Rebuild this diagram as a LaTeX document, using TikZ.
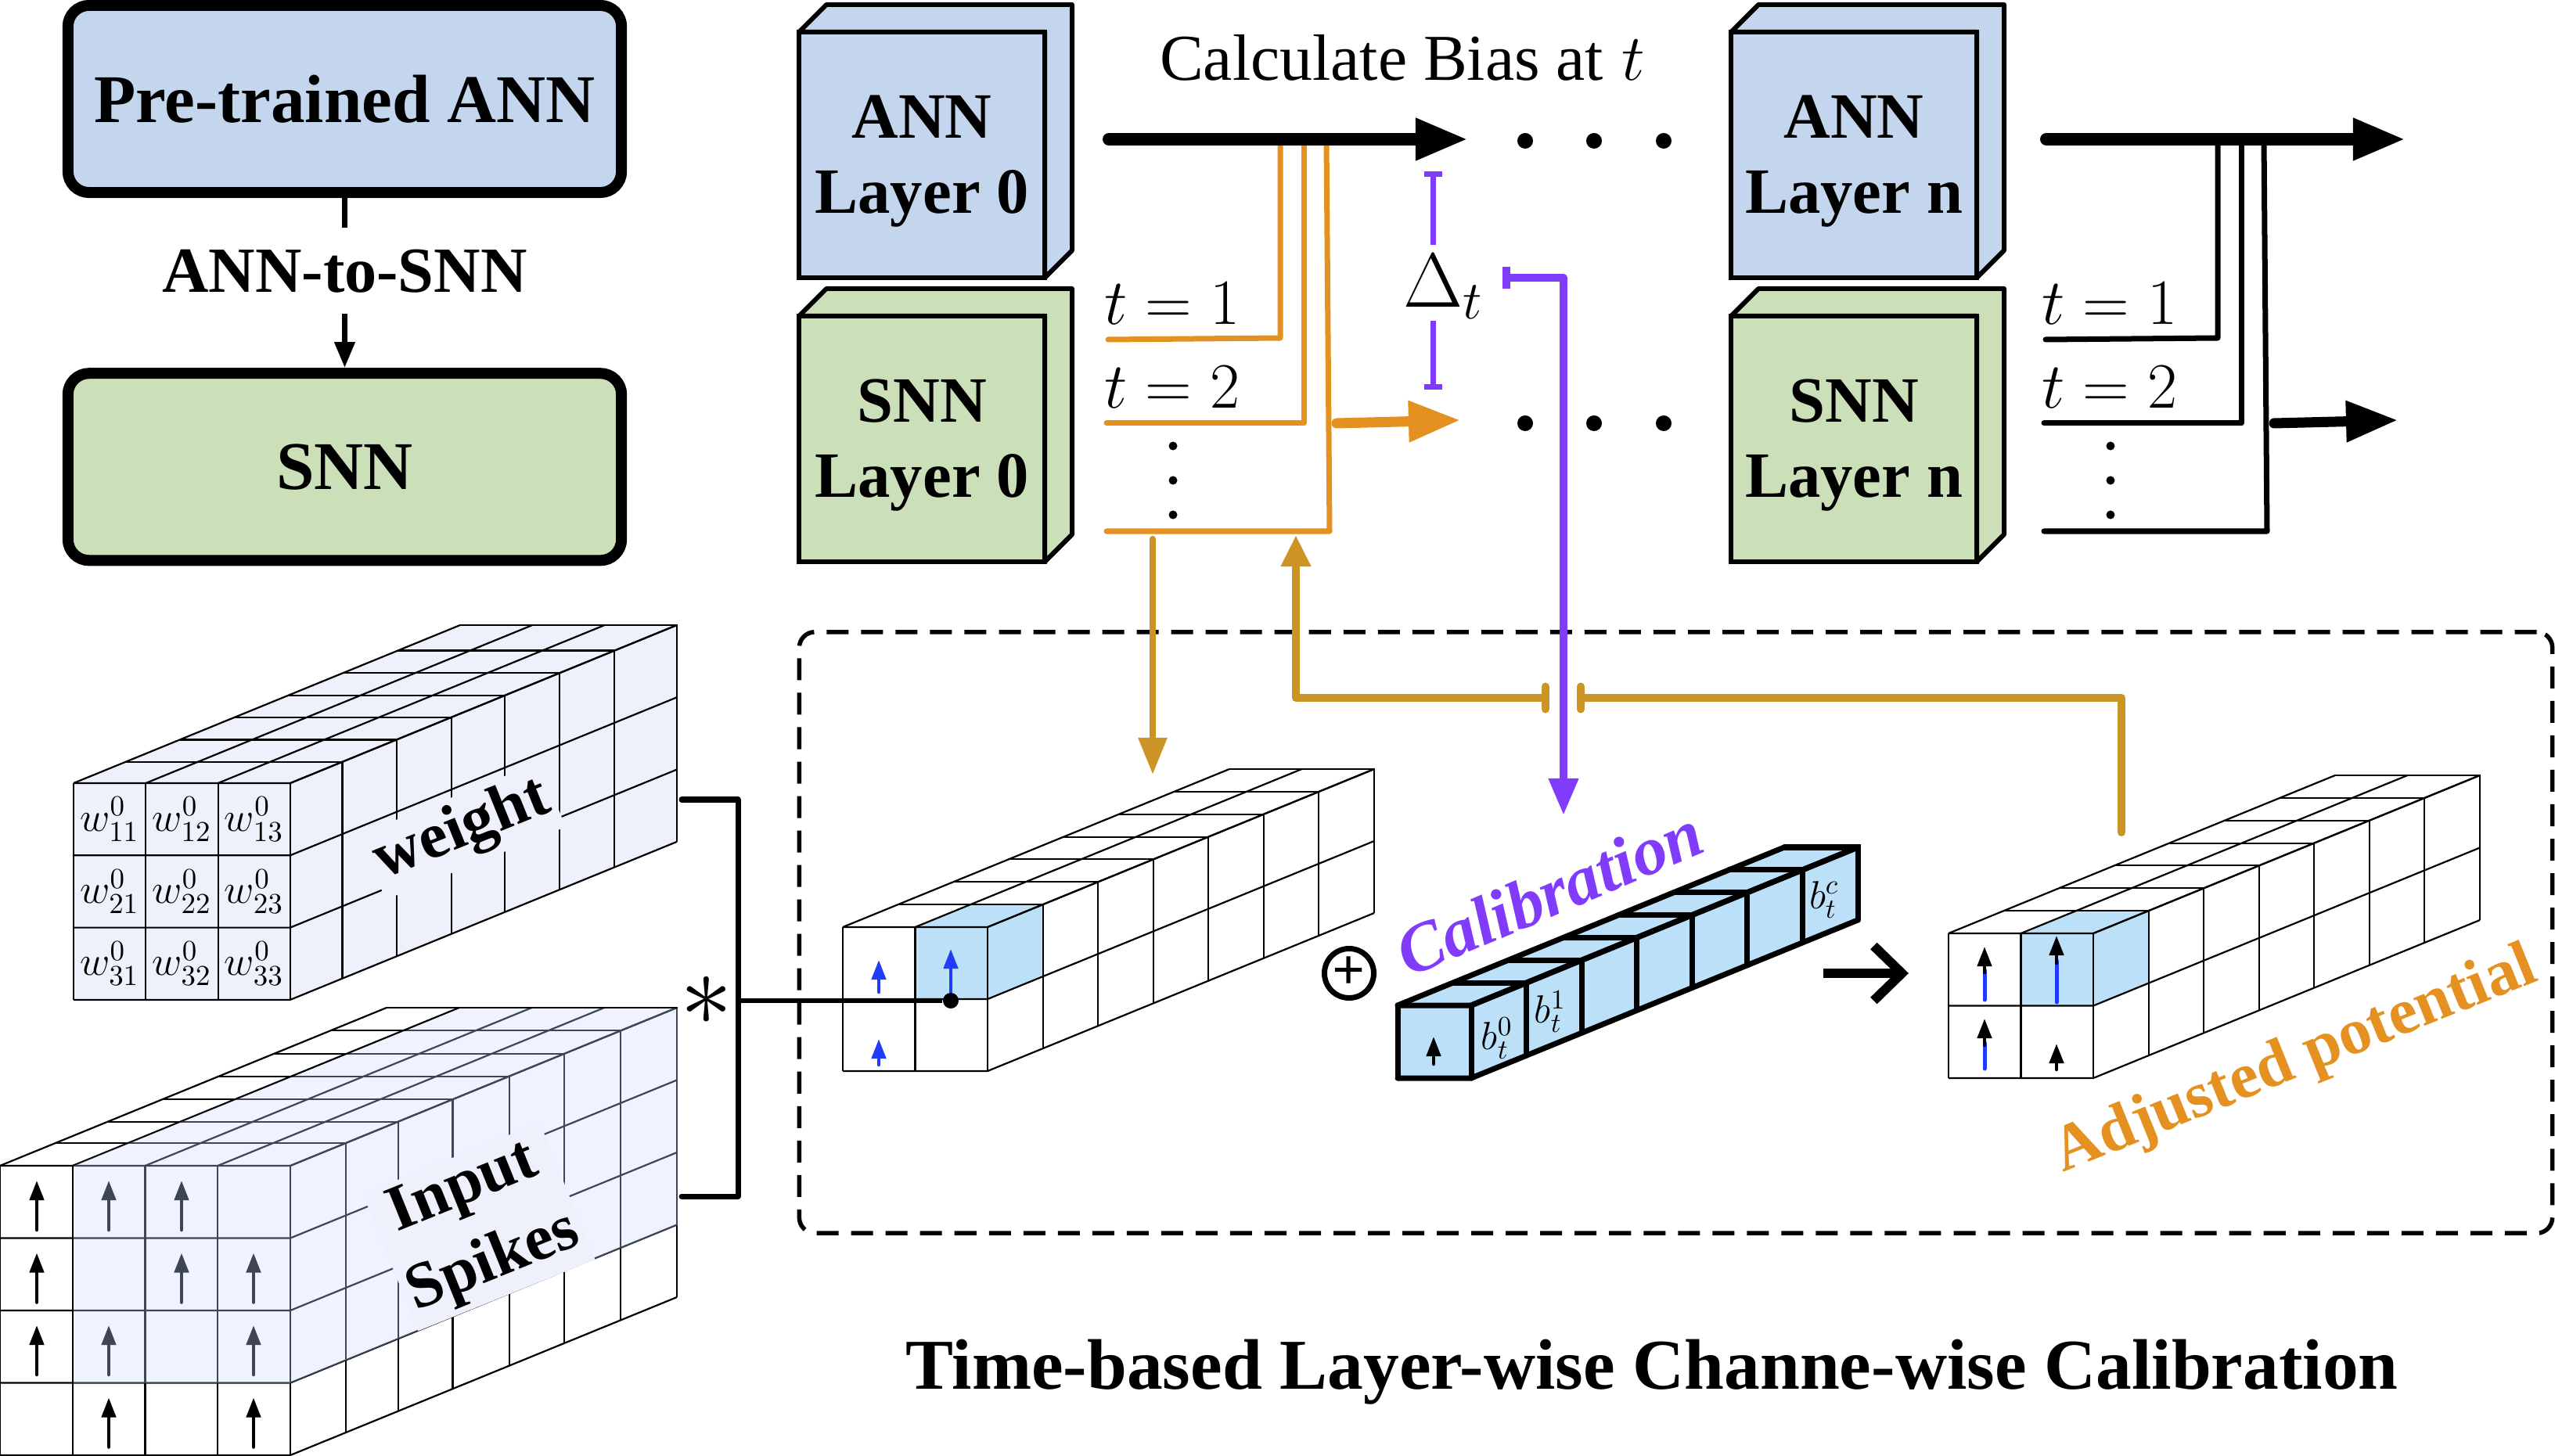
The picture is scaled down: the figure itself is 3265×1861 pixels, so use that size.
\documentclass[tikz,border=0pt]{standalone}
\usepackage{fix-cm}
\usepackage{fontspec}
\usetikzlibrary{arrows.meta, positioning, calc}
\newfontfamily\figserif{Liberation Serif}
\definecolor{AnnBlue}{RGB}{195, 214, 237}
\definecolor{SnnGreen}{RGB}{203, 223, 184}
\definecolor{GridTint}{RGB}{238, 241, 252}
\definecolor{SpikeVeil}{RGB}{201, 217, 255}
\definecolor{CellBlue}{RGB}{187, 224, 248}
\definecolor{BiasOrange}{RGB}{229, 145, 33}
\definecolor{FeedGold}{RGB}{204, 148, 37}
\definecolor{CalibPurple}{RGB}{128, 60, 250}
\definecolor{SpikeBlue}{RGB}{30, 60, 250}

% where the slices of a block lie along its depth
\newcommand{\slices}{0.143,0.286,0.429,0.571,0.714,0.857,1}
% grid of cells: x, y of the front corner, columns, rows, cell width, cell height
\newcommand{\gridblock}[6]{
    \foreach \i in {0,...,#3} {
        \draw[gridline] ({#1+\i*#5},#2) -- ({#1+\i*#5},{#2+#4*#6});
        \draw[gridline] ({#1+\i*#5},#2) -- ++(494,-202);
    }
    \foreach \j in {0,...,#4} {
        \draw[gridline] (#1,{#2+\j*#6}) -- ++({#3*#5},0) -- ++(494,-202);
    }
    \foreach \f in \slices {
        \draw[gridline] ({#1+\f*494},{#2-\f*202}) -- ++({#3*#5},0) -- ++(0,{#4*#6});
    }
}
% layer as a box: name, x, y, colour, text
\newcommand{\layerblock}[5]{
    \filldraw[fill=#4, line width=0.06cm, line join=round] (#2,#3) -- ++(35,-35) -- ++(314,0) -- ++(0,314) -- ++(-35,35) -- ++(0,-314) -- cycle;
    \node[layerbox, fill=#4, anchor=north west] (#1) at (#2,#3) {};
    \node[boldtext, yshift=-0.08cm] (#1text) at (#1.center) {#5};
}
% wires behind a layer pair: shift, colour of the wires
\newcommand{\timetaps}[2]{
    \begin{scope}[shift={(#1,0)}]
        \coordinate (tapa) at (1636,178);
        \coordinate (tapb) at (1666,178);
        \coordinate (tapc) at (1695,178);
        \coordinate (tapd) at (1699,679);
        \draw[tapwire, draw=#2] (tapa) -- (1636,432) -- (1416,434);
        \draw[tapwire, draw=#2] (tapb) |- (1414,541);
        \draw[tapwire, draw=#2] (tapc) -- (tapd) -- (1414,679);
        \coordinate (mainfrom) at (1417,178);
        \coordinate (mainto) at (1876,178);
        \draw[mainarrow] (mainfrom) -- (mainto);
        \coordinate (sumfrom) at (1708,541);
        \coordinate (sumto) at (1866,537);
        \draw[sumarrow, draw=#2, fill=#2] (sumfrom) -- (sumto);
        \node[timelabel] (tone) at (1498,388) {$t=1$};
        \node[timelabel] (ttwo) at (1498,495) {$t=2$};
        \foreach \dy in {570,614,658} {
            \fill (1499,\dy) circle[radius=0.055cm];
        }
    \end{scope}
}

\begin{document}
\begin{tikzpicture}[x=0.01cm, y=-0.01cm,
        gridline/.style={line width=0.022cm},
        boldtext/.style={font=\figserif\bfseries\fontsize{23.5}{27.3}\selectfont, align=center},
        modelbox/.style={draw, line width=0.14cm, rounded corners=0.27cm, minimum width=7.07cm, minimum height=2.39cm, font=\figserif\bfseries\fontsize{24.8}{28}\selectfont},
        layerbox/.style={draw, line width=0.06cm, outer sep=0pt, minimum width=3.14cm, minimum height=3.14cm},
        tapwire/.style={line width=0.07cm, line cap=round, line join=round},
        mainarrow/.style={line width=0.16cm, line cap=round, -{Triangle[length=0.67cm, width=0.5cm]}},
        sumarrow/.style={line width=0.13cm, line cap=round, -{Triangle[length=0.66cm, width=0.5cm]}},
        timelabel/.style={font=\fontsize{23.5}{27}\selectfont},
        spikearrow/.style={line width=0.045cm, line cap=round, -{Triangle[length=0.25cm, width=0.18cm]}},
        celllabel/.style={font=\fontsize{15}{18}\selectfont, inner sep=0pt},
        feedline/.style={draw=FeedGold, line width=0.1cm, line join=round},
        calibline/.style={draw=CalibPurple, line width=0.1cm}]
    \useasboundingbox (0,0) rectangle (3265,1861);

    % model conversion
    \node[modelbox, fill=AnnBlue] (pretrained) at (440.5,126.5) {Pre-trained ANN};
    \node[modelbox, fill=SnnGreen, below=2.17cm of pretrained] (snnmodel) {SNN};
    \draw[line width=0.07cm, -{Triangle[length=0.33cm, width=0.25cm]}] (pretrained) -- node[pos=0.43, fill=white, inner sep=0pt, minimum height=1.1cm, font=\figserif\bfseries\fontsize{23.4}{27}\selectfont] (convertlabel) {ANN-to-SNN} (snnmodel);

    % layers
    \layerblock{annzero}{1021}{41}{AnnBlue}{ANN\\Layer 0}
    \layerblock{snnzero}{1021}{404}{SnnGreen}{SNN\\Layer 0}
    \layerblock{annlast}{2212}{41}{AnnBlue}{ANN\\Layer n}
    \layerblock{snnlast}{2212}{404}{SnnGreen}{SNN\\Layer n}

    \timetaps{0}{BiasOrange}
    \timetaps{1198}{black}

    \node[font=\figserif\fontsize{23.8}{27}\selectfont] (biaslabel) at (1792,74) {Calculate Bias at\;$t$};
    \foreach \cx in {1949,2037,2126} {
        \fill (\cx,180) circle[radius=0.1cm];
        \fill (\cx,541) circle[radius=0.1cm];
    }

    % weight block
    \fill[GridTint] (94,1001) -- (94,1278) -- (371,1278) -- (865,1077) -- (865,800) -- (589,800) -- cycle;
    \renewcommand{\slices}{0.135,0.275,0.417,0.555,0.697,0.839,1}
    \gridblock{94}{1001}{3}{3}{92.3}{92.3}
    \foreach \r in {1,2,3} {
        \foreach \c in {1,2,3} {
            \node[celllabel] (w\r\c) at ({94+(\c-0.5)*92.3},{1001+(\r-0.5)*92.3}) {$w_{\r\c}^0$};
        }
    }
    \node[boldtext, fill=GridTint, rotate=22, inner sep=2pt] (weightlabel) at (591,1062) {weight};

    % spike block
    \renewcommand{\slices}{0.143,0.279,0.42,0.566,0.708,0.855,1}
    \gridblock{0}{1490}{4}{4}{92.75}{92.5}
    \foreach \cx/\ry in {47/0,47/1,47/2,139/0,232/0,232/1,324/1,139/2,324/2,139/3,324/3} {
        \draw[spikearrow] (\cx,{1572+\ry*92.5}) -- ++(0,-63);
    }
    \fill[SpikeVeil, opacity=0.32] (94,1490) -- (94,1768) -- (371,1768) -- (866,1566) -- (866,1289) -- (589,1289) -- cycle;
    \node[boldtext, fill=GridTint, rotate=22, inner sep=2pt] (spikelabel) at (612,1568) {Input\\[2pt]Spikes};
    \renewcommand{\slices}{0.143,0.286,0.429,0.571,0.714,0.857,1}

    % bracket into the potential
    \coordinate (weightport) at (871,1022);
    \coordinate (spikeport) at (871,1529);
    \coordinate (mergept) at (943,1279);
    \draw[line width=0.07cm, line cap=round, line join=round] (weightport) -- ++(72,0) |- (spikeport);
    \node[font=\fontsize{38}{42}\selectfont, inner sep=0pt] (product) at (903,1279) {$\ast$};

    % calibration frame
    \node[draw, line width=0.055cm, dash pattern=on 0.28cm off 0.16cm, rounded corners=0.2cm, minimum width=22.39cm, minimum height=7.68cm] (calibframe) at (2141.5,1192) {};

    % potential before
    \fill[CellBlue] (1170,1185) -- (1170,1277) -- (1262,1277) -- (1332.6,1248) -- (1332.6,1156) -- (1240.6,1156) -- cycle;
    \gridblock{1077}{1185}{2}{2}{92.5}{92}
    \draw[spikearrow, draw=SpikeBlue, fill=SpikeBlue] (1123,1268) -- (1123,1227);
    \draw[spikearrow, draw=SpikeBlue, fill=SpikeBlue] (1215,1268) -- (1215,1213);
    \draw[spikearrow, draw=SpikeBlue, fill=SpikeBlue] (1123,1361) -- (1123,1328);
    \node[circle, fill, inner sep=0pt, minimum size=0.2cm] (probe) at (1215,1279) {};
    \draw[line width=0.065cm] (mergept) -- (probe);

    \node[circle, draw, line width=0.07cm, minimum size=0.63cm, inner sep=0pt, font=\figserif\bfseries\fontsize{21}{21}\selectfont] (addsign) at (1724,1244) {+};

    % calibration bar
    \fill[CellBlue] (1786,1285) -- (1786,1378) -- (1880,1378) -- (2374,1176) -- (2374,1083) -- (2280,1083) -- cycle;
    \begin{scope}[gridline/.style={line width=0.07cm, line cap=round}]
        \gridblock{1786}{1285}{1}{1}{94}{93}
    \end{scope}
    \draw[spikearrow] (1832,1360) -- (1832,1325);
    \node[celllabel, font=\fontsize{14.3}{17}\selectfont] (bzero) at (1913,1327) {$b_t^0$};
    \node[celllabel, font=\fontsize{14.3}{17}\selectfont] (bone) at (1981,1293) {$b_t^1$};
    \node[celllabel, font=\fontsize{14.3}{17}\selectfont] (blast) at (2331,1150) {$b_t^c$};
    \node[font=\figserif\bfseries\itshape\fontsize{25}{28}\selectfont, text=CalibPurple, rotate=23, inner sep=0pt] (caliblabel) at (1980,1141) {Calibration};

    \coordinate (sumin) at (2330,1244);
    \coordinate (sumout) at (2439,1244);
    \draw[line width=0.12cm, -{Straight Barb[length=0.36cm, width=0.7cm]}] (sumin) -- (sumout);

    % potential after
    \fill[CellBlue] (2582,1193) -- (2582,1285) -- (2675,1285) -- (2745.6,1256) -- (2745.6,1164) -- (2652.6,1164) -- cycle;
    \gridblock{2490}{1193}{2}{2}{92.5}{92.5}
    \draw[line width=0.05cm, draw=SpikeBlue, line cap=round] (2536,1278) -- (2536,1240);
    \draw[line width=0.05cm, draw=SpikeBlue, line cap=round] (2628,1281) -- (2628,1228);
    \draw[line width=0.05cm, draw=SpikeBlue, line cap=round] (2536,1366) -- (2536,1333);
    \draw[spikearrow] (2536,1243) -- (2536,1210);
    \draw[spikearrow] (2628,1231) -- (2628,1196);
    \draw[spikearrow] (2536,1336) -- (2536,1302);
    \draw[spikearrow] (2628,1367) -- (2628,1334);
    \node[font=\figserif\bfseries\fontsize{23.6}{27}\selectfont, text=BiasOrange, rotate=22, inner sep=0pt] (adjustlabel) at (2934,1357) {Adjusted potential};

    % delta between the two paths
    \node[font=\fontsize{28}{32}\selectfont, inner sep=0pt] (deltat) at (1845,366) {$\Delta_t$};
    \coordinate (deltatopa) at (1831,313);
    \coordinate (deltatopb) at (1831,219);
    \coordinate (deltabota) at (1831,410);
    \coordinate (deltabotb) at (1831,498);
    \draw[line width=0.07cm, draw=CalibPurple, -{Bar[width=0.23cm]}] (deltatopa) -- (deltatopb);
    \draw[line width=0.07cm, draw=CalibPurple, -{Bar[width=0.23cm]}] (deltabota) -- (deltabotb);

    % purple path to the bar
    \coordinate (biasfrom) at (1920,355);
    \coordinate (biasbend) at (1998,355);
    \coordinate (biasto) at (1998,1042);
    \draw[calibline, line join=round, {Bar[width=0.27cm]}-{Triangle[length=0.47cm, width=0.36cm]}] (biasfrom) -- (biasbend) -- (biasto);

    % gold paths
    \coordinate (tapdown) at (1473,689);
    \coordinate (griddown) at (1473,990);
    \draw[draw=FeedGold, line width=0.085cm, -{Triangle[length=0.47cm, width=0.35cm]}, line cap=round] (tapdown) -- (griddown);
    \coordinate (feedleft) at (1980,892);
    \coordinate (feedbend) at (1656,892);
    \coordinate (feedup) at (1656,684);
    \draw[feedline, {Bar[round, width=0.29cm]}-{Triangle[length=0.4cm, width=0.36cm]}] (feedleft) -- (feedbend) -- (feedup);
    \coordinate (feedright) at (2015,892);
    \coordinate (feedcorner) at (2711,892);
    \coordinate (feedstart) at (2711,1064);
    \draw[feedline, line cap=round, {Bar[round, width=0.29cm]}-] (feedright) -- (feedcorner) -- (feedstart);

    \node[font=\figserif\bfseries\fontsize{26}{30}\selectfont] (caption) at (2111,1754) {Time-based Layer-wise Channe-wise Calibration};
\end{tikzpicture}
\end{document}
